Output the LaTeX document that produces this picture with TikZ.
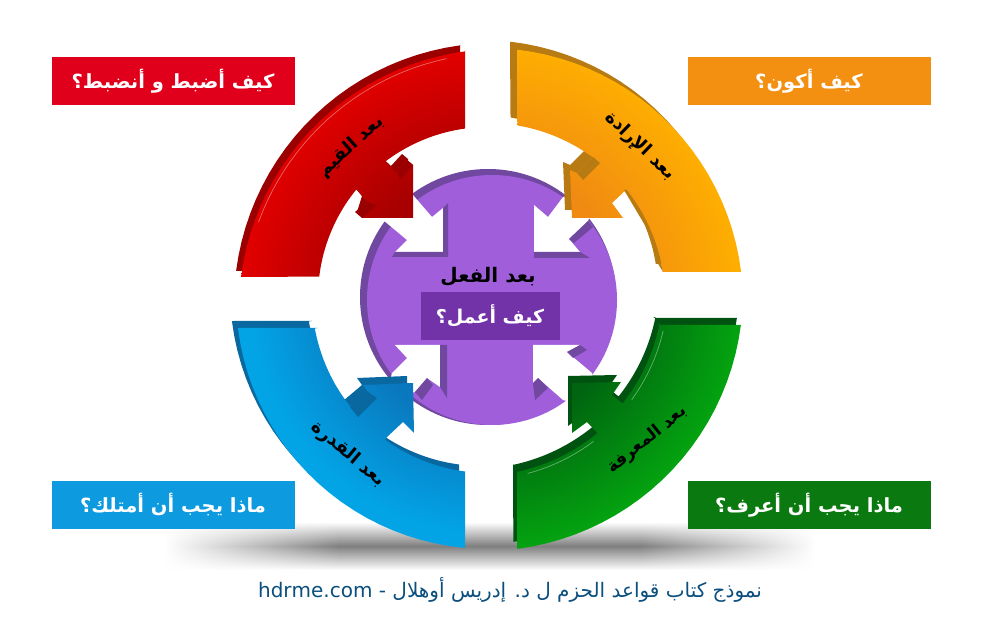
\documentclass[tikz,border=0pt]{standalone}
\usetikzlibrary{fadings}
\usepackage{fontspec}
\TeXXeTstate=1
\newfontfamily\arabicfont[Script=Arabic]{DejaVu Sans}
\definecolor{cRedBox}{HTML}{E0001B}
\definecolor{cRedHi}{HTML}{E80000}
\definecolor{cRedLo}{HTML}{A80000}
\definecolor{cRedDk}{HTML}{9A0000}
\definecolor{cOrBox}{HTML}{F39012}
\definecolor{cOrHi}{HTML}{FFB000}
\definecolor{cOrLo}{HTML}{F08A12}
\definecolor{cOrDk}{HTML}{B87A12}
\definecolor{cBlBox}{HTML}{0E9ADE}
\definecolor{cBlHi}{HTML}{02A4E6}
\definecolor{cBlLo}{HTML}{0A78BE}
\definecolor{cBlDk}{HTML}{0A68A0}
\definecolor{cGrBox}{HTML}{0A7A10}
\definecolor{cGrHi}{HTML}{04A610}
\definecolor{cGrLo}{HTML}{006410}
\definecolor{cGrDk}{HTML}{005210}
\definecolor{cPu}{HTML}{A05EDA}
\definecolor{cPuDk}{HTML}{7048A0}
\definecolor{cPuBox}{HTML}{7232A8}
\definecolor{cFoot}{HTML}{0B4F7E}
\pgfdeclareradialshading{hubred}{\pgfpoint{0bp}{0bp}}{color(0bp)=(cRedLo); color(12bp)=(cRedLo); color(24bp)=(cRedHi); color(50bp)=(cRedHi)}
\pgfdeclareradialshading{hubor}{\pgfpoint{0bp}{0bp}}{color(0bp)=(cOrLo); color(12bp)=(cOrLo); color(24bp)=(cOrHi); color(50bp)=(cOrHi)}
\pgfdeclareradialshading{hubbl}{\pgfpoint{0bp}{0bp}}{color(0bp)=(cBlLo); color(12bp)=(cBlLo); color(22bp)=(cBlHi); color(50bp)=(cBlHi)}
\pgfdeclareradialshading{hubgr}{\pgfpoint{0bp}{0bp}}{color(0bp)=(cGrLo); color(12bp)=(cGrLo); color(24bp)=(cGrHi); color(50bp)=(cGrHi)}
\tikzfading[name=sideleft,left color=transparent!100,right color=transparent!0]
\tikzfading[name=sideright,left color=transparent!0,right color=transparent!100]
\tikzset{pl/.style={samples=24,variable=\t}}
\newcommand\redpath{(465,50) -- (465,128) -- plot[pl,domain=262.2:232.7] ({488+170*cos(\t)},{297+170*sin(\t)}) -- (396,172) -- (407,160) -- (413,165) -- (413,218) -- (362,218) -- (367,202) -- (357,190) -- plot[pl,domain=219.2:186.9] ({488+170*cos(\t)},{297+170*sin(\t)}) -- (243,277) -- plot[pl,domain=187.3:262.3] ({500+261*cos(\t)},{310+261*sin(\t)}) -- cycle}
\newcommand\orpath{(517,52) -- plot[pl,domain=-83.4:-7] ({488+255*cos(\t)},{303+255*sin(\t)}) -- (663,272) -- plot[pl,domain=-9.1:-38.6] ({488+177*cos(\t)},{300+177*sin(\t)}) -- (612,203) -- (623,218) -- (572,218) -- (570,170) -- (577,173) -- (593,157) -- plot[pl,domain=-53.7:-80.4] ({488+177*cos(\t)},{300+177*sin(\t)}) -- cycle}
\newcommand\blpath{(240,328) -- (318,328) -- plot[pl,domain=169.7:141.4] ({488+176*cos(\t)},{297+176*sin(\t)}) -- (368,392) -- (363,385) -- (413,383) -- (414,433) -- (403,422) -- (387,437) -- plot[pl,domain=125.8:97.5] ({488+176*cos(\t)},{297+176*sin(\t)}) -- (465,548) -- plot[pl,domain=95.2:172.9] ({488+252*cos(\t)},{297+252*sin(\t)}) -- cycle}
\newcommand\grpath{(657,325) -- (741,325) -- plot[pl,domain=7.3:82.6] ({484+259*cos(\t)},{292+259*sin(\t)}) -- (517,471) -- plot[pl,domain=78:50.5] ({478+188*cos(\t)},{288+188*sin(\t)}) -- (587,422) -- (572,433) -- (572,383) -- (621,382) -- (612,395) -- (622,403) -- plot[pl,domain=38.5:11.2] ({478+185*cos(\t)},{288+185*sin(\t)}) -- cycle}
\tikzset{
  labelbox/.style={minimum width=243pt,minimum height=48pt,inner sep=0pt,text=white,font=\arabicfont\bfseries\fontsize{19.5}{22}\selectfont},
  arrowlabel/.style={inner sep=0pt,text=black,font=\arabicfont\bfseries\fontsize{18}{20}\selectfont},
  shine/.style={draw=white,opacity=.4,line width=.7pt},
  shadowband/.style={top color=white,bottom color=white,middle color=black!50}
}
\begin{document}
\begin{tikzpicture}[x=1pt,y=-1pt]
\useasboundingbox (0,0) rectangle (999,617);
\fill[white] (0,0) rectangle (999,617);
% ground shadow
\shade[shadowband] (340,522) rectangle (640,570);
\shade[shadowband,path fading=sideleft] (165,522) rectangle (340,570);
\shade[shadowband,path fading=sideright] (640,522) rectangle (815,570);
% hub
\fill[cPuDk] (488,297) circle [radius=128];
\fill[cPu] (492,300) circle [radius=125];
% notches
\fill[white] (383,220) -- (407,240) -- (395,252) -- (443,252) -- (443,208) -- (432,217) -- (413,195) -- (380,190) -- cycle;
\fill[white] (563,197) -- (548,217) -- (534,205) -- (534,252) -- (580,252) -- (569,239) -- (588,221) -- (600,190) -- cycle;
\fill[white] (392,373) -- (407,358) -- (395,345) -- (440,345) -- (440,387) -- (427,378) -- (415,392) -- (385,400) -- cycle;
\fill[white] (533,345) -- (580,345) -- (567,352) -- (592,373) -- (600,410) -- (563,400) -- (538,378) -- (533,383) -- cycle;
% notch bevels
\fill[cPuDk] (443,208) -- (448,203) -- (448,257) -- (443,252) -- cycle;
\fill[cPuDk] (395,252) -- (443,252) -- (448,257) -- (392,257) -- cycle;
\fill[cPuDk] (534,252) -- (580,252) -- (590,258) -- (534,258) -- cycle;
\fill[cPuDk] (569,239) -- (588,221) -- (593,227) -- (574,243) -- cycle;
\fill[cPuDk] (440,345) -- (447,345) -- (447,398) -- (440,387) -- cycle;
\fill[cPuDk] (427,378) -- (433,385) -- (422,400) -- (415,392) -- cycle;
\fill[cPuDk] (567,352) -- (580,345) -- (587,350) -- (573,358) -- cycle;
\fill[cPuDk] (538,378) -- (548,388) -- (535,400) -- (533,383) -- cycle;
% red arrow
\fill[cRedDk,shift={(-5,-6)}] \redpath;
\begin{scope}\clip \redpath; \shade[shading=hubred] (488,297) circle [radius=270]; \end{scope}
\fill[cRedDk] (397,172) -- (407,160) -- (413,165) -- (400,180) -- cycle;
\fill[cRedDk] (367,202) -- (377,205) -- (362,218) -- (355,212) -- cycle;
\draw[shine] plot[pl,domain=258:200] ({500+257*cos(\t)},{310+257*sin(\t)});
% orange arrow
\fill[cOrDk,shift={(-7,-8)}] \orpath;
\begin{scope}\clip \orpath; \shade[shading=hubor] (488,297) circle [radius=270]; \end{scope}
\fill[cOrDk] (663,272) -- plot[pl,domain=-9.1:-38.6] ({488+177*cos(\t)},{300+177*sin(\t)}) -- (624,190) -- (646,227) -- (654,250) -- (657,262) -- cycle;
\fill[cOrDk] (577,173) -- (593,157) -- (600,163) -- (583,180) -- cycle;
% blue arrow
\fill[cBlDk,shift={(-6,-7)}] \blpath;
\begin{scope}\clip \blpath; \shade[shading=hubbl] (488,297) circle [radius=270]; \end{scope}
\fill[cBlDk] (350,407) -- (368,392) -- (377,398) -- (358,417) -- cycle;
% green arrow
\fill[cGrDk,shift={(-4,-7)}] \grpath;
\begin{scope}\clip \grpath; \shade[shading=hubgr] (488,297) circle [radius=270]; \end{scope}
\draw[shine] plot[pl,domain=75:53] ({478+192*cos(\t)},{288+192*sin(\t)});
\draw[shine] plot[pl,domain=36:13] ({478+190*cos(\t)},{288+190*sin(\t)});
% legends
\node[labelbox,fill=cRedBox] (qred) at (173,81) {\beginR كيف أضبط و أنضبط؟\endR};
\node[labelbox,fill=cOrBox] (qor) at (809,81) {\beginR كيف أكون؟\endR};
\node[labelbox,fill=cBlBox] (qbl) at (173,505) {\beginR ماذا يجب أن أمتلك؟\endR};
\node[labelbox,fill=cGrBox] (qgr) at (809,505) {\beginR ماذا يجب أن أعرف؟\endR};
% arrow labels
\node[arrowlabel,rotate=42] (lred) at (351,147) {\beginR بعد القيم\endR};
\node[arrowlabel,rotate=-44] (lor) at (640,146) {\beginR بعد الإرادة\endR};
\node[arrowlabel,rotate=-40] (lbl) at (348,454) {\beginR بعد القدرة\endR};
\node[arrowlabel,rotate=39,font=\arabicfont\bfseries\fontsize{17}{20}\selectfont] (lgr) at (647,440) {\beginR بعد المعرفة\endR};
% centre
\node[arrowlabel,font=\arabicfont\bfseries\fontsize{20}{22}\selectfont] (lcen) at (488,277) {\beginR بعد الفعل\endR};
\node[labelbox,fill=cPuBox,minimum width=139pt,font=\arabicfont\bfseries\fontsize{19}{22}\selectfont] (qcen) at (490,316) {\beginR كيف أعمل؟\endR};
% footer
\node[inner sep=0pt,text=cFoot,font=\arabicfont\fontsize{20}{22}\selectfont] (foot) at (510,590) {\beginR نموذج كتاب قواعد الحزم ل د. إدريس أوهلال - \beginL hdrme.com\endL\endR};
\end{tikzpicture}
\end{document}
